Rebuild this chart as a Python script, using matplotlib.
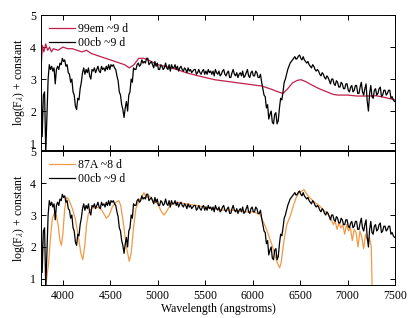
import numpy as np
import matplotlib
matplotlib.use("Agg")
import matplotlib.pyplot as plt

plt.rcParams['font.family'] = ['Liberation Serif', 'DejaVu Serif']
plt.rcParams['mathtext.fontset'] = 'stix'

# ---- data ----
# SN 2000cb ~9 d (black), sampled every 12.5 A from 3770 A
cb_start, cb_step = 3770, 12.5
cb_flux = [
    3.05, 1.20, 2.50, 2.60, 0.70, 1.80, 3.00, 3.45, 3.30, 3.40,
    3.25, 3.35, 2.85, 3.30, 3.40, 3.30, 3.50, 3.45, 3.65, 3.55,
    3.60, 3.40, 3.45, 3.20, 3.15, 2.90, 3.00, 2.60, 2.50, 2.15,
    2.05, 2.40, 2.35, 2.70, 2.90, 3.20, 3.35, 3.15, 3.30, 3.20,
    3.35, 3.10, 3.00, 3.30, 3.25, 3.35, 3.20, 3.30, 3.40, 3.25,
    3.20, 3.40, 3.30, 3.35, 3.25, 3.40, 3.30, 3.45, 3.30, 3.45,
    3.40, 3.45, 3.35, 3.30, 3.10, 2.95, 2.60, 2.50, 2.20, 2.05,
    1.80, 2.10, 2.30, 2.00, 2.50, 2.60, 3.00, 2.90, 3.35, 3.30,
    3.30, 3.45, 3.50, 3.40, 3.45, 3.60, 3.50, 3.55, 3.50, 3.65,
    3.65, 3.45, 3.50, 3.55, 3.45, 3.35, 3.55, 3.40, 3.50, 3.30,
    3.30, 3.45, 3.40, 3.30, 3.35, 3.50, 3.35, 3.30, 3.45, 3.25,
    3.45, 3.35, 3.35, 3.45, 3.30, 3.40, 3.25, 3.35, 3.40, 3.30,
    3.25, 3.35, 3.30, 3.20, 3.35, 3.25, 3.30, 3.20, 3.25, 3.30,
    3.30, 3.15, 3.20, 3.30, 3.20, 3.15, 3.25, 3.30, 3.15, 3.25,
    3.15, 3.30, 3.20, 3.25, 3.15, 3.25, 3.10, 3.30, 3.20, 3.15,
    3.25, 3.10, 3.15, 3.25, 3.30, 3.15, 3.10, 3.20, 3.25, 3.05,
    3.05, 3.20, 3.30, 3.15, 3.10, 3.20, 3.05, 3.15, 3.20, 3.10,
    3.25, 3.05, 3.10, 3.20, 3.30, 3.10, 3.05, 3.20, 3.25, 3.10,
    3.10, 3.25, 3.20, 3.05, 3.05, 3.15, 2.90, 2.70, 2.50, 2.45,
    2.10, 2.20, 1.75, 1.90, 2.00, 1.65, 1.60, 1.90, 1.95, 1.60,
    1.70, 2.10, 2.40, 2.35, 2.60, 2.90, 3.00, 3.15, 3.30, 3.40,
    3.50, 3.55, 3.60, 3.65, 3.70, 3.62, 3.65, 3.72, 3.75, 3.65,
    3.60, 3.70, 3.60, 3.55, 3.50, 3.55, 3.45, 3.40, 3.35, 3.45,
    3.40, 3.30, 3.25, 3.30, 3.25, 3.15, 3.10, 3.20, 3.15, 3.05,
    3.00, 3.10, 3.05, 2.95, 2.85, 3.00, 3.00, 2.85, 2.80, 2.95,
    2.90, 2.75, 2.75, 2.90, 2.85, 2.70, 2.70, 2.85, 2.85, 2.65,
    2.60, 2.75, 2.80, 2.60, 2.65, 2.80, 2.80, 2.55, 2.55, 2.75,
    2.90, 2.60, 2.50, 2.70, 2.85, 2.30, 2.00, 2.55, 2.80, 2.45,
    2.40, 2.65, 2.70, 2.50, 2.55, 2.70, 2.75, 2.45, 2.50, 2.65,
    2.65, 2.50, 2.55, 2.65, 2.65, 2.40, 2.45, 2.35, 2.30,
]
cb_wave = cb_start + cb_step * np.arange(len(cb_flux))

# SN 1999em ~9 d (red)
em_wave = [3770, 3785, 3800, 3820, 3840, 3860, 3880, 3900, 3950, 4000,
           4050, 4100, 4150, 4200, 4250, 4300, 4350, 4400, 4450, 4500,
           4550, 4600, 4650, 4700, 4750, 4800, 4850, 4900, 4950, 5000,
           5100, 5200, 5300, 5400, 5500, 5600, 5700, 5800, 5900, 6000,
           6100, 6200, 6250, 6320, 6370, 6420, 6470, 6510, 6560, 6620,
           6700, 6800, 6850, 6900, 7000, 7100, 7200, 7300, 7400, 7500]
em_flux = [3.30, 4.05, 3.85, 4.10, 3.90, 4.00, 3.85, 3.95, 3.90, 4.00,
           3.95, 3.95, 3.90, 3.85, 3.90, 3.80, 3.75, 3.70, 3.65, 3.60,
           3.55, 3.50, 3.45, 3.35, 3.45, 3.65, 3.65, 3.60, 3.52, 3.45,
           3.38, 3.30, 3.20, 3.12, 3.05, 2.98, 2.94, 2.90, 2.86, 2.82,
           2.78, 2.68, 2.62, 2.55, 2.70, 2.88, 2.96, 2.98, 2.92, 2.82,
           2.70, 2.58, 2.52, 2.50, 2.50, 2.47, 2.47, 2.48, 2.42, 2.35]

# SN 1987A ~8 d (orange)
a87_wave = [3800, 3825, 3850, 3870, 3890, 3910, 3930, 3950, 3970, 3985,
            4000, 4020, 4040, 4060, 4080, 4100, 4130, 4160, 4190, 4210,
            4230, 4250, 4270, 4300, 4350, 4400, 4430, 4460, 4490, 4520,
            4560, 4590, 4610, 4640, 4670, 4700, 4720, 4745, 4770, 4800,
            4830, 4855, 4880, 4910, 4950, 5000, 5040, 5065, 5090, 5130,
            5200, 5300, 5400, 5500, 5600, 5700, 5800, 5900, 6000, 6050,
            6080, 6110, 6140, 6170, 6200, 6230, 6260, 6285, 6300, 6330,
            6360, 6400, 6430, 6460, 6490, 6520, 6540, 6570, 6600, 6650,
            6700, 6750, 6800, 6830, 6850, 6870, 6890, 6910, 6930, 6950,
            6970, 6990, 7010, 7030, 7050, 7070, 7090, 7110, 7130, 7150,
            7170, 7190, 7210, 7230, 7250, 7260, 7270]
a87_flux = [0.50, 0.90, 1.50, 2.30, 2.90, 3.05, 3.00, 2.70, 2.20, 2.05,
            2.40, 3.20, 3.55, 3.50, 3.35, 3.20, 2.90, 2.40, 1.80, 1.60,
            2.00, 2.70, 3.05, 3.20, 3.25, 3.20, 3.05, 2.90, 3.00, 3.25,
            3.40, 3.45, 3.30, 2.70, 2.00, 1.55, 1.80, 2.60, 3.20, 3.45,
            3.55, 3.70, 3.55, 3.60, 3.45, 3.35, 3.10, 3.00, 3.10, 3.30,
            3.40, 3.35, 3.30, 3.25, 3.20, 3.15, 3.15, 3.10, 3.10, 3.05,
            3.00, 2.80, 2.60, 2.35, 2.10, 1.80, 1.50, 1.35, 1.50, 2.20,
            2.70, 3.00, 3.30, 3.55, 3.70, 3.75, 3.80, 3.65, 3.55, 3.40,
            3.30, 3.15, 3.00, 2.85, 2.70, 2.80, 2.55, 2.75, 2.60, 2.70,
            2.40, 2.70, 2.50, 2.60, 2.20, 2.55, 2.45, 2.00, 2.50, 2.30,
            1.95, 2.40, 2.20, 2.30, 2.00, 0.60, 0.50]

x_ticks = [4000, 4500, 5000, 5500, 6000, 6500, 7000, 7500]
y_ticks = [1, 2, 3, 4, 5]

RED = '#c21f4b'
ORANGE = '#f19a45'

fig = plt.figure(figsize=(4.15, 3.18), dpi=100)
ax1 = fig.add_axes([0.0988, 0.528, 0.853, 0.4245])
ax2 = fig.add_axes([0.0988, 0.1038, 0.853, 0.421])

ax1.plot(em_wave, em_flux, color=RED, lw=0.9, label='99em ~9 d')
ax1.plot(cb_wave, cb_flux, color='black', lw=0.9, label='00cb ~9 d')
ax2.plot(a87_wave, a87_flux, color=ORANGE, lw=0.9, label='87A ~8 d')
ax2.plot(cb_wave, cb_flux, color='black', lw=0.9, label='00cb ~9 d')

for ax, ylo in ((ax1, 0.78), (ax2, 0.81)):
    ax.set_xlim(3770, 7500)
    ax.set_ylim(ylo, 5)
    ax.set_xticks(x_ticks)
    ax.set_yticks(y_ticks)
    ax.tick_params(direction='in', top=True, right=True, labelsize=8.5, length=3.5, width=0.7)
    ax.set_ylabel(r'log(F$_\lambda$) + constant', fontsize=8.5, labelpad=2)
    ax.legend(loc='upper left', frameon=False, fontsize=8.5, handlelength=2.2,
              handletextpad=0.3, borderaxespad=0.25, labelspacing=0.2)
    for s in ax.spines.values():
        s.set_linewidth(0.7)

ax1.tick_params(labelbottom=False)
ax2.set_xlabel('Wavelength (angstroms)', fontsize=8.5, labelpad=1)

fig.savefig('out.png', dpi=100)
